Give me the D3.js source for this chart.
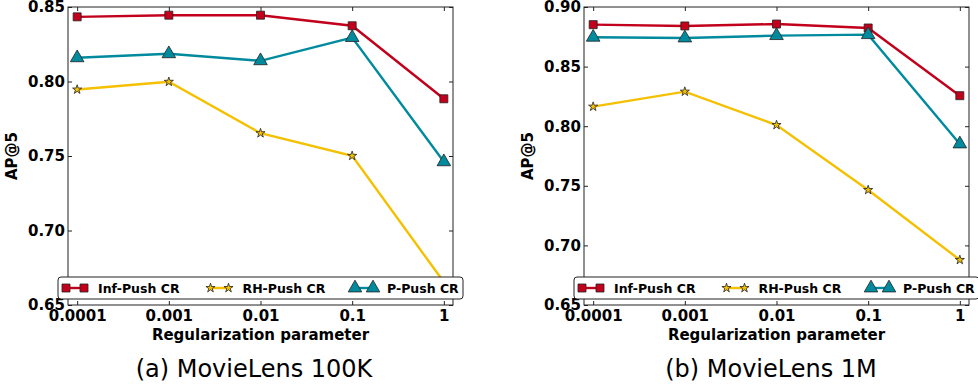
<!DOCTYPE html>
<html>
<head>
<meta charset="utf-8">
<script src="https://cdn.jsdelivr.net/npm/d3@7"></script>
<style>
  body { margin: 0; background: #fff; }
  svg { display: block; }
  .tick text { font-family: "DejaVu Sans", sans-serif; font-weight: bold; font-size: 15px; fill: #000; }
</style>
</head>
<body>
<svg id="chart" width="978" height="390"></svg>
<script>
// x categories (regularization parameter)
var params = ["0.0001", "0.001", "0.01", "0.1", "1"];
var seriesNames = ["Inf-Push CR", "RH-Push CR", "P-Push CR"];

// (a) MovieLens 100K
var infPush100k = [0.8434, 0.8445, 0.8445, 0.8374, 0.7884];
var rhPush100k  = [0.7946, 0.7998, 0.7653, 0.7501, 0.6654];
var pPush100k   = [0.8159, 0.8186, 0.8139, 0.8295, 0.7461];

// (b) MovieLens 1M
var infPush1m = [0.8852, 0.8841, 0.8857, 0.8824, 0.8256];
var rhPush1m  = [0.8164, 0.8290, 0.8010, 0.7465, 0.6878];
var pPush1m   = [0.8746, 0.8740, 0.8760, 0.8768, 0.7851];

var yTicks100k = [0.65, 0.70, 0.75, 0.80, 0.85];
var yTicks1m   = [0.65, 0.70, 0.75, 0.80, 0.85, 0.90];

// styles
var colors  = ["#c2001c", "#f5c000", "#008a9e"];
var symbols = [d3.symbolSquare, d3.symbolStar, d3.symbolTriangle];
var symSize = [64, 26, 80];

var svg = d3.select("#chart");

// draws one panel
function drawPanel(opts) {
  var left = opts.left, top = 7, w = 385, h = 298;
  var g = svg.append("g").attr("transform", "translate(" + left + "," + top + ")");

  var x = d3.scalePoint().domain(params).range([0, w]).padding(0.1);
  var y = d3.scaleLinear().domain(opts.yDomain).range([h, 0]);

  var series = [opts.inf, opts.rh, opts.p];
  var line = d3.line()
      .x(function(d, i) { return x(params[i]); })
      .y(function(d) { return y(d); });

  // lines and markers
  series.forEach(function(vals, k) {
    g.append("path")
      .attr("d", line(vals))
      .attr("fill", "none")
      .attr("stroke", colors[k])
      .attr("stroke-width", 2.4);
    g.selectAll(".m" + k)
      .data(vals)
      .enter()
      .append("path")
      .attr("transform", function(d, i) { return "translate(" + x(params[i]) + "," + y(d) + ")"; })
      .attr("d", d3.symbol().type(symbols[k]).size(symSize[k]))
      .attr("fill", colors[k])
      .attr("stroke", "#222")
      .attr("stroke-width", 0.8);
  });

  // axes, ticks pointing inward
  var fmt = d3.format(".2f");
  g.append("g").attr("transform", "translate(0," + h + ")")
    .call(d3.axisBottom(x).tickSizeInner(-4).tickSizeOuter(0).tickPadding(5));
  g.append("g")
    .call(d3.axisTop(x).tickSizeInner(-4).tickSizeOuter(0).tickFormat(""));
  g.append("g")
    .call(d3.axisLeft(y).tickValues(opts.yTicks).tickFormat(fmt).tickSizeInner(-4).tickSizeOuter(0).tickPadding(3));
  g.append("g").attr("transform", "translate(" + w + ",0)")
    .call(d3.axisRight(y).tickValues(opts.yTicks).tickFormat("").tickSizeInner(-4).tickSizeOuter(0));
  g.selectAll(".domain").remove();
  g.selectAll(".tick line").attr("stroke", "#222");

  g.append("rect")
    .attr("width", w).attr("height", h)
    .attr("fill", "none").attr("stroke", "#222").attr("stroke-width", 1);

  // axis titles
  g.append("text")
    .attr("x", w / 2).attr("y", h + 35)
    .attr("text-anchor", "middle")
    .style("font-family", "DejaVu Sans, sans-serif").style("font-weight", "bold").style("font-size", "15px")
    .text("Regularization parameter");
  g.append("text")
    .attr("transform", "translate(" + opts.yLabelX + "," + (h / 2) + ") rotate(-90)")
    .attr("text-anchor", "middle")
    .style("font-family", "DejaVu Sans, sans-serif").style("font-weight", "bold").style("font-size", "15px")
    .text("AP@5");

  // legend
  var lg = g.append("g").attr("transform", "translate(-10," + (h - 28) + ")");
  lg.append("rect")
    .attr("width", w + 20).attr("height", 22).attr("rx", 3)
    .attr("fill", "#fff").attr("stroke", "#222").attr("stroke-width", 1);
  seriesNames.forEach(function(name, k) {
    var ox = k * 144.5;
    lg.append("line")
      .attr("x1", ox + 8).attr("x2", ox + 26).attr("y1", 11).attr("y2", 11)
      .attr("stroke", colors[k]).attr("stroke-width", 2.4);
    [8, 26].forEach(function(px) {
      lg.append("path")
        .attr("transform", "translate(" + (ox + px) + ",11)")
        .attr("d", d3.symbol().type(symbols[k]).size(symSize[k]))
        .attr("fill", colors[k]).attr("stroke", "#222").attr("stroke-width", 0.8);
    });
    lg.append("text")
      .attr("x", ox + 40).attr("y", 15.5)
      .style("font-family", "DejaVu Sans, sans-serif").style("font-weight", "bold").style("font-size", "12.5px")
      .text(name);
  });

  // caption
  svg.append("text")
    .attr("x", opts.captionX).attr("y", 377)
    .attr("text-anchor", "middle")
    .style("font-family", "DejaVu Sans, sans-serif").style("font-size", "24px")
    .text(opts.caption);
}

drawPanel({ left: 68, yDomain: [0.65, 0.85], yTicks: yTicks100k,
            inf: infPush100k, rh: rhPush100k, p: pPush100k,
            yLabelX: -51, captionX: 254, caption: "(a) MovieLens 100K" });
drawPanel({ left: 584, yDomain: [0.65, 0.90], yTicks: yTicks1m,
            inf: infPush1m, rh: rhPush1m, p: pPush1m,
            yLabelX: -51, captionX: 771, caption: "(b) MovieLens 1M" });
</script>
</body>
</html>
